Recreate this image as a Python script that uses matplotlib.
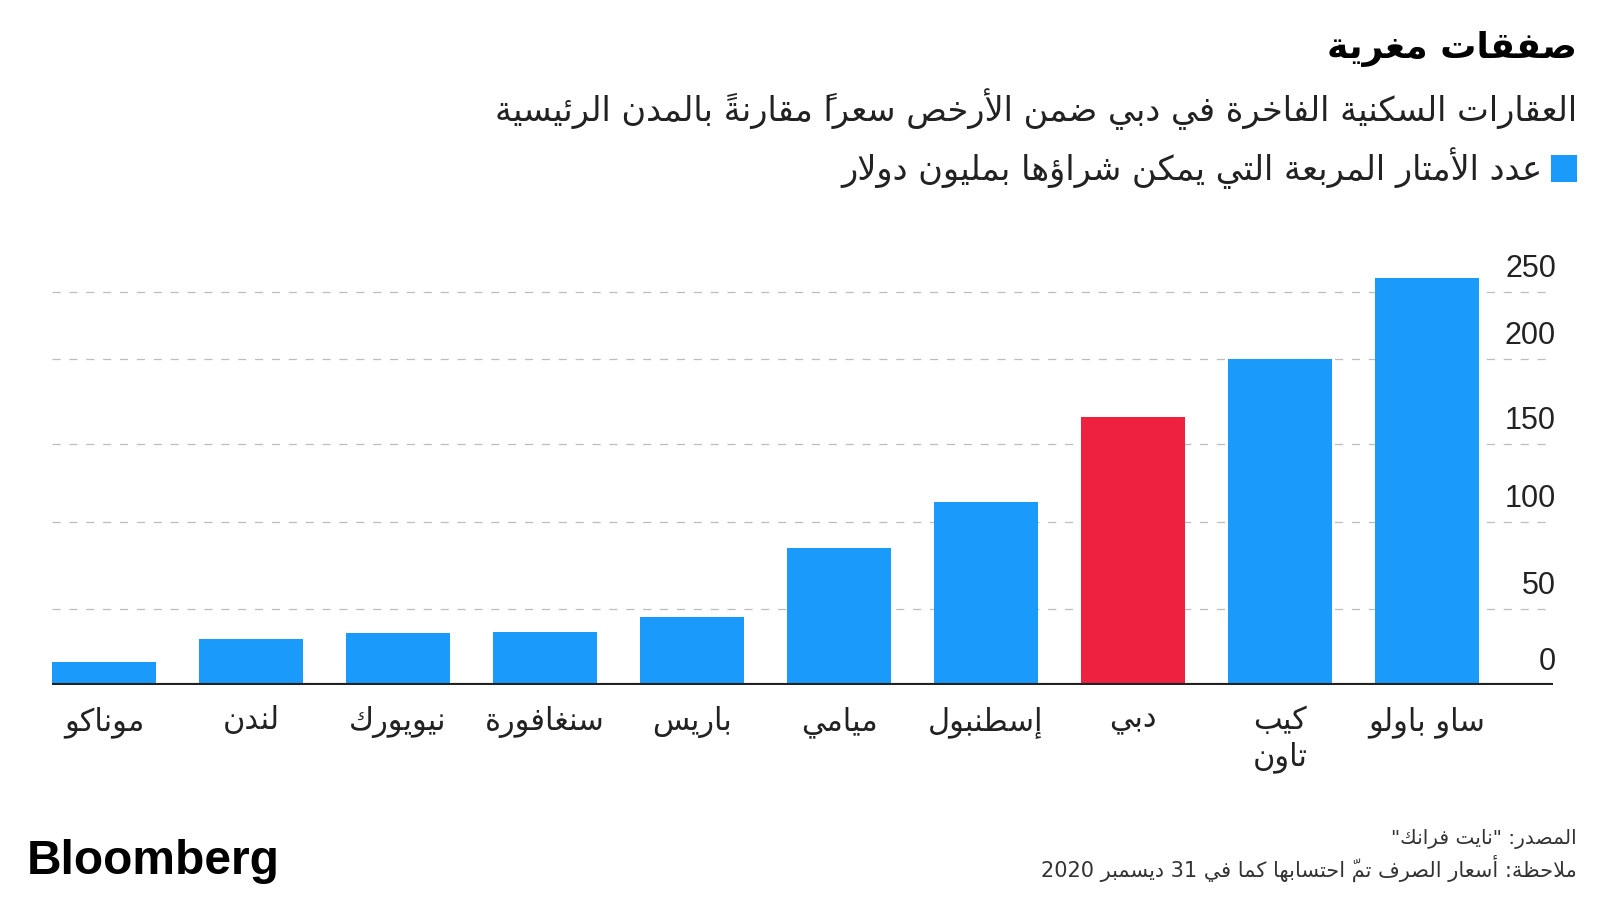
import matplotlib
matplotlib.use("Agg")
import matplotlib.pyplot as plt
import numpy as np
from matplotlib import transforms
from matplotlib.patches import Rectangle

# ---------------- data ----------------
cities = ["موناكو", "لندن", "نيويورك", "سنغافورة", "باريس", "ميامي",
          "إسطنبول", "دبي", "كيب\nتاون", "ساو باولو"]
values = [15, 30, 34, 35, 45, 85, 113, 166, 200, 260]
highlight_city = "دبي"
yticks = [0, 50, 100, 150, 200, 250]
ytick_labels = ["0", "50", "100", "150", "200", "250"]

title = "صفقات مغرية"
subtitle = "العقارات السكنية الفاخرة في دبي ضمن الأرخص سعراً مقارنةً بالمدن الرئيسية"
legend_label = "عدد الأمتار المربعة التي يمكن شراؤها بمليون دولار"
source = "المصدر: \"نايت فرانك\""
note = "ملاحظة: أسعار الصرف تمّ احتسابها كما في 31 ديسمبر 2020"
brand = "Bloomberg"

BLUE = "#1A9BFC"
RED = "#EE2240"

# ---------------- minimal Arabic shaping (visual order) ----------------
RIGHT = {'\u0622': 0xFE81, '\u0623': 0xFE83, '\u0624': 0xFE85, '\u0625': 0xFE87,
         '\u0627': 0xFE8D, '\u0629': 0xFE93, '\u062F': 0xFEA9, '\u0630': 0xFEAB,
         '\u0631': 0xFEAD, '\u0632': 0xFEAF, '\u0648': 0xFEED, '\u0649': 0xFEEF}
DUAL = {'\u0626': 0xFE89, '\u0628': 0xFE8F, '\u062A': 0xFE95, '\u062B': 0xFE99,
        '\u062C': 0xFE9D, '\u062D': 0xFEA1, '\u062E': 0xFEA5, '\u0633': 0xFEB1,
        '\u0634': 0xFEB5, '\u0635': 0xFEB9, '\u0636': 0xFEBD, '\u0637': 0xFEC1,
        '\u0638': 0xFEC5, '\u0639': 0xFEC9, '\u063A': 0xFECD, '\u0641': 0xFED1,
        '\u0642': 0xFED5, '\u0643': 0xFED9, '\u0644': 0xFEDD, '\u0645': 0xFEE1,
        '\u0646': 0xFEE5, '\u0647': 0xFEE9, '\u064A': 0xFEF1}
LAMALEF = {'\u0622': 0xFEF5, '\u0623': 0xFEF7, '\u0625': 0xFEF9, '\u0627': 0xFEFB}


def _is_mark(c):
    return 0x064B <= ord(c) <= 0x0652 or ord(c) == 0x0670


def _shape_line(s):
    units = []
    chars = list(s)
    i = 0
    while i < len(chars):
        c = chars[i]
        if _is_mark(c) and units:
            units[-1][2] += c
            i += 1
            continue
        if c == '\u0644':
            j = i + 1
            m = ''
            while j < len(chars) and _is_mark(chars[j]):
                m += chars[j]
                j += 1
            if j < len(chars) and chars[j] in LAMALEF:
                units.append(['LA', chars[j], m])
                i = j + 1
                continue
        units.append(['C', c, ''])
        i += 1

    def jt(u):
        if u[0] == 'LA':
            return 'R'
        if u[1] in DUAL:
            return 'D'
        if u[1] in RIGHT:
            return 'R'
        return 'U'

    glyphs = []
    for k, u in enumerate(units):
        t = jt(u)
        prev = units[k - 1] if k > 0 else None
        nxt = units[k + 1] if k + 1 < len(units) else None
        pc = prev is not None and jt(prev) == 'D' and t != 'U'
        nc = t == 'D' and nxt is not None and jt(nxt) in ('D', 'R')
        if u[0] == 'LA':
            g = chr(LAMALEF[u[1]] + (1 if pc else 0))
        elif t == 'R':
            g = chr(RIGHT[u[1]] + (1 if pc else 0))
        elif t == 'D':
            b = DUAL[u[1]]
            g = chr(b + (3 if (pc and nc) else 1 if pc else 2 if nc else 0))
        else:
            g = u[1]
        # zero-advance marks are drawn from the pen position rightwards,
        # so they are placed just before their base in visual order
        glyphs.append((u[2] + g, u))

    tokens = []
    for g, u in glyphs:
        ch = u[1]
        ltr = u[0] == 'C' and (ch.isdigit() or ('a' <= ch.lower() <= 'z'))
        if ltr and tokens and tokens[-1][1]:
            tokens[-1][0] += g
        else:
            tokens.append([g, ltr])
    return ''.join(t[0] for t in reversed(tokens))


def ar(s):
    return '\n'.join(_shape_line(line) for line in s.split('\n'))


AR_FONT = ["DejaVu Sans"]
NUM_FONT = ["Liberation Sans", "DejaVu Sans"]

# ---------------- figure ----------------
W, H = 1600, 900
fig = plt.figure(figsize=(16, 9), dpi=100)
fig.patch.set_facecolor("white")


def fx(px):
    return px / W


def fy(py):
    return 1 - py / H


ax = fig.add_axes([fx(52), fy(685), fx(1553) - fx(52), fy(265) - fy(685)])

# piecewise scale reproducing the reference gridline spacing
scale_vals = [-1000, 0, 50, 100, 150, 200, 250, 1000]
scale_px = [-1520, 0, 76, 163, 241, 326, 393, 1398]


def _fwd(v):
    return np.interp(v, scale_vals, scale_px)


def _inv(p):
    return np.interp(p, scale_px, scale_vals)


ax.set_yscale("function", functions=(_fwd, _inv))

x = np.arange(len(cities))
colors = [RED if c == highlight_city else BLUE for c in cities]
ax.bar(x, values, width=0.707, color=colors, zorder=2)

ax.set_xlim(-0.354, 9.857)
ax.set_ylim(0, 270)

for t in yticks[1:]:
    ax.axhline(t, color="#BDBDBD", lw=0.9, dashes=(6.5, 7), zorder=1)
ax.axhline(0, color="#222222", lw=3, zorder=3, solid_capstyle="butt")

for s in ax.spines.values():
    s.set_visible(False)
ax.set_yticks([])
ax.set_xticks(x)
ax.set_xticklabels([ar(c) for c in cities], fontsize=22, family=AR_FONT,
                   color="#222222", linespacing=1.25)
ax.tick_params(axis="x", length=0, pad=15)
for lbl in ax.get_xticklabels():
    lbl.set_multialignment("center")

off = transforms.ScaledTranslation(0, 8 / 100, fig.dpi_scale_trans)
tr = transforms.blended_transform_factory(ax.transAxes, ax.transData) + off
for t, lab in zip(yticks, ytick_labels):
    ax.text(1.002, t, lab, transform=tr, ha="right", va="bottom",
            fontsize=22, family=NUM_FONT, color="#222222")

# ---------------- texts ----------------
fig.text(fx(1577), fy(49), ar(title), ha="right", va="center",
         fontsize=26, fontweight="bold", family=AR_FONT, color="#000000")
fig.text(fx(1577), fy(109), ar(subtitle), ha="right", va="center",
         fontsize=24.2, family=AR_FONT, color="#222222")
fig.patches.append(Rectangle((fx(1551), fy(182)), fx(1577) - fx(1551),
                             fy(155) - fy(182), transform=fig.transFigure,
                             facecolor=BLUE, edgecolor="none"))
fig.text(fx(1543), fy(168), ar(legend_label), ha="right", va="center",
         fontsize=24.2, family=AR_FONT, color="#222222")

fig.text(fx(1577), fy(839), ar(source), ha="right", va="center",
         fontsize=14.5, family=AR_FONT, color="#333333")
fig.text(fx(1577), fy(868), ar(note), ha="right", va="center",
         fontsize=15, family=AR_FONT, color="#333333")
fig.text(fx(27), fy(862), brand, ha="left", va="center",
         fontsize=34.5, fontweight="bold", family=NUM_FONT, color="#000000")

fig.savefig("out.png", dpi=100, facecolor="white")
